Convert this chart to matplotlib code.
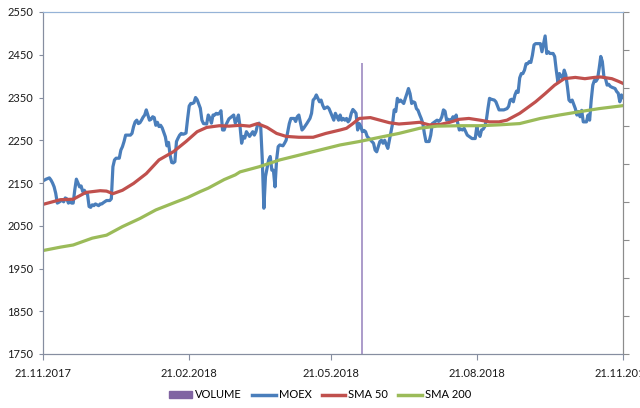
import datetime as dt
import matplotlib
matplotlib.use("Agg")
import matplotlib.pyplot as plt
from matplotlib.patches import Patch
from matplotlib.lines import Line2D

plt.rcParams['font.family'] = ['Lato', 'DejaVu Sans']
plt.rcParams['font.size'] = 8

start = dt.date(2017, 11, 21)

# MOEX close (day offset from 21.11.2017, value)
moex_day = [0, 2, 4, 5, 6, 7, 8, 9, 10, 12, 13, 14, 15, 16, 17, 18, 19, 20, 21, 22,
            23, 24, 25, 26, 27, 28, 29, 30, 31, 32, 33, 35, 36, 37, 38, 40, 42, 43, 44, 45,
            46, 48, 49, 50, 51, 52, 55, 56, 57, 58, 59, 60, 61, 62, 63, 64, 65, 67, 68, 69,
            70, 71, 72, 73, 74, 75, 77, 78, 79, 80, 81, 82, 83, 84, 85, 86, 87, 88, 89, 90,
            91, 92, 93, 94, 95, 96, 97, 99, 100, 101, 103, 104, 105, 106, 107, 108, 109, 110, 111, 112,
            113, 114, 115, 117, 120, 121, 122, 123, 124, 125, 126, 127, 128, 130, 132, 133, 134, 135, 136, 137,
            138, 139, 140, 142, 143, 144, 145, 146, 147, 148, 149, 151, 152, 153, 155, 156, 158, 159, 160, 161,
            163, 164, 166, 168, 169, 170, 171, 172, 174, 175, 176, 177, 179, 180, 183, 184, 185, 186, 187, 188,
            189, 190, 191, 192, 193, 194, 195, 196, 197, 198, 199, 200, 201, 202, 203, 204, 207, 208, 209, 210,
            211, 212, 213, 214, 215, 216, 217, 218, 219, 220, 221, 222, 223, 224, 225, 227, 228, 229, 230, 231,
            232, 233, 234, 235, 236, 237, 238, 239, 240, 241, 243, 244, 245, 248, 249, 250, 251, 252, 253, 254,
            255, 256, 257, 258, 259, 260, 261, 262, 263, 264, 265, 266, 267, 270, 272, 273, 274, 275, 276, 277,
            278, 279, 280, 281, 282, 284, 285, 287, 290, 292, 293, 294, 295, 296, 297, 298, 299, 300, 301, 302,
            303, 304, 305, 306, 307, 308, 309, 310, 313, 314, 315, 316, 317, 318, 319, 320, 321, 322, 323, 324,
            325, 326, 327, 328, 329, 330, 331, 332, 333, 335, 336, 337, 338, 339, 340, 342, 343, 344, 345, 346,
            347, 348, 349, 350, 351, 352, 353, 354, 355, 356, 357, 358, 360, 361, 362, 363, 364, 365]
moex = [2155, 2159, 2162, 2157, 2150, 2141, 2126, 2103, 2105, 2110, 2106, 2115, 2113, 2103, 2106, 2103, 2103, 2134, 2159, 2150,
        2141, 2143, 2130, 2133, 2126, 2124, 2095, 2093, 2099, 2097, 2101, 2097, 2101, 2101, 2104, 2109, 2109, 2113, 2188, 2204,
        2208, 2208, 2227, 2235, 2247, 2262, 2262, 2266, 2282, 2293, 2297, 2289, 2291, 2297, 2304, 2309, 2321, 2297, 2299, 2305,
        2303, 2285, 2292, 2282, 2285, 2279, 2258, 2237, 2245, 2215, 2198, 2197, 2200, 2247, 2255, 2262, 2266, 2264, 2265, 2267,
        2300, 2330, 2336, 2336, 2338, 2350, 2345, 2325, 2297, 2289, 2288, 2309, 2302, 2290, 2309, 2309, 2313, 2311, 2313, 2319,
        2274, 2274, 2285, 2300, 2309, 2290, 2298, 2309, 2282, 2243, 2259, 2255, 2270, 2259, 2270, 2262, 2270, 2286, 2290, 2282,
        2204, 2091, 2165, 2204, 2212, 2180, 2180, 2141, 2204, 2235, 2239, 2237, 2243, 2250, 2289, 2301, 2301, 2294, 2305, 2309,
        2274, 2278, 2289, 2301, 2313, 2344, 2348, 2356, 2340, 2344, 2332, 2324, 2328, 2324, 2297, 2313, 2305, 2297, 2309, 2297,
        2301, 2297, 2301, 2293, 2298, 2313, 2322, 2318, 2313, 2274, 2289, 2282, 2270, 2273, 2270, 2259, 2247, 2243, 2227, 2223,
        2235, 2247, 2250, 2243, 2250, 2240, 2231, 2250, 2270, 2289, 2321, 2317, 2348, 2340, 2344, 2336, 2348, 2359, 2371, 2359,
        2336, 2340, 2338, 2324, 2320, 2310, 2301, 2290, 2266, 2247, 2247, 2262, 2289, 2297, 2294, 2297, 2305, 2321, 2318, 2297,
        2299, 2297, 2297, 2305, 2297, 2309, 2290, 2274, 2276, 2274, 2278, 2270, 2262, 2254, 2254, 2282, 2265, 2259, 2274, 2276,
        2282, 2297, 2324, 2348, 2346, 2344, 2340, 2321, 2321, 2324, 2329, 2344, 2346, 2340, 2356, 2365, 2362, 2396, 2406, 2406,
        2414, 2429, 2429, 2434, 2432, 2449, 2473, 2476, 2476, 2457, 2476, 2494, 2453, 2457, 2453, 2453, 2453, 2446, 2414, 2387,
        2406, 2400, 2394, 2414, 2403, 2376, 2344, 2340, 2344, 2324, 2309, 2317, 2305, 2320, 2293, 2293, 2309, 2297, 2344, 2379,
        2390, 2388, 2394, 2418, 2446, 2434, 2398, 2394, 2379, 2381, 2376, 2374, 2371, 2364, 2360, 2340, 2356, 2350]

sma50_day = [0, 11, 19, 27, 36, 40, 44, 50, 57, 65, 73, 82, 90, 97, 103, 111, 117, 124, 130, 135,
             141, 147, 153, 161, 170, 178, 187, 191, 195, 199, 206, 212, 218, 224, 231, 237, 243, 250, 256, 262,
             268, 275, 281, 287, 292, 296, 300, 303, 310, 316, 322, 328, 335, 341, 347, 351, 358, 362, 365]
sma50 = [2100, 2111, 2112, 2128, 2132, 2131, 2125, 2133, 2149, 2172, 2204, 2223, 2247, 2270, 2280, 2284, 2283, 2285, 2283, 2289,
         2280, 2266, 2259, 2257, 2257, 2266, 2274, 2278, 2289, 2301, 2303, 2297, 2291, 2288, 2290, 2292, 2286, 2287, 2292, 2299,
         2301, 2297, 2293, 2293, 2297, 2305, 2313, 2321, 2340, 2359, 2379, 2394, 2397, 2394, 2397, 2398, 2394, 2388, 2383]

sma200_day = [0, 11, 19, 31, 40, 50, 61, 71, 84, 91, 99, 104, 111, 114, 121, 124, 136, 149, 161, 174,
              187, 199, 212, 224, 237, 248, 262, 275, 287, 300, 313, 325, 338, 350, 363, 365]
sma200 = [1992, 2000, 2005, 2021, 2028, 2048, 2067, 2087, 2106, 2116, 2130, 2138, 2152, 2158, 2169, 2176, 2188, 2204, 2215, 2227,
          2239, 2247, 2257, 2266, 2278, 2283, 2284, 2284, 2286, 2289, 2301, 2309, 2317, 2324, 2330, 2331]

volume_day = [201]
volume = [76.5]

xtick_labels = ['21.11.2017', '21.02.2018', '21.05.2018', '21.08.2018', '21.11.2018']


def to_dates(days):
    return [start + dt.timedelta(days=d) for d in days]


fig = plt.figure(figsize=(6.4, 4.08), dpi=100)
ax = fig.add_axes([43 / 640, 1 - 354 / 408, 580 / 640, 342 / 408])
ax2 = ax.twinx()
ax.set_zorder(ax2.get_zorder() + 1)
ax.patch.set_visible(False)

ax2.bar(to_dates(volume_day), volume, width=1.3, color='#ad9dcb', zorder=1)
ax.plot(to_dates(moex_day), moex, color='#4a7ebb', lw=2.3, solid_joinstyle='round')
ax.plot(to_dates(sma50_day), sma50, color='#c0504d', lw=2.3)
ax.plot(to_dates(sma200_day), sma200, color='#9bbb59', lw=2.3)

ax.set_ylim(1750, 2550)
ax.set_yticks(range(1750, 2551, 100))
ax2.set_ylim(0, 90)
ax2.set_yticks(range(0, 91, 10))
ax2.set_yticklabels([])

ticks = [dt.datetime.strptime(s, '%d.%m.%Y').date() for s in xtick_labels]
ax.set_xlim(ticks[0], ticks[-1])
ax.set_xticks(ticks)
ax.set_xticklabels(xtick_labels)

for a in (ax, ax2):
    a.spines['left'].set_color('#868ea0')
    a.spines['bottom'].set_color('#868ea0')
    a.spines['right'].set_color('#8c8c8c')
    a.spines['top'].set_color('#95b3d7')
ax.tick_params(axis='y', length=3, color='#868ea0', pad=4, labelcolor='#1a1a1a')
ax.tick_params(axis='x', length=4, color='#868ea0', pad=6, labelcolor='#1a1a1a')
ax2.tick_params(axis='y', length=4, color='#8c8c8c')

handles = [Patch(color='#8064a2'),
           Line2D([], [], color='#4a7ebb', lw=2.5),
           Line2D([], [], color='#c0504d', lw=2.5),
           Line2D([], [], color='#9bbb59', lw=2.5)]
fig.legend(handles, ['VOLUME', 'MOEX', 'SMA 50', 'SMA 200'], loc='center',
           bbox_to_anchor=(0.5, 1 - 395 / 408), ncol=4, frameon=False,
           handlelength=2.1, handleheight=0.6, handletextpad=0.3, columnspacing=0.9)

fig.savefig('out.png', dpi=100)
